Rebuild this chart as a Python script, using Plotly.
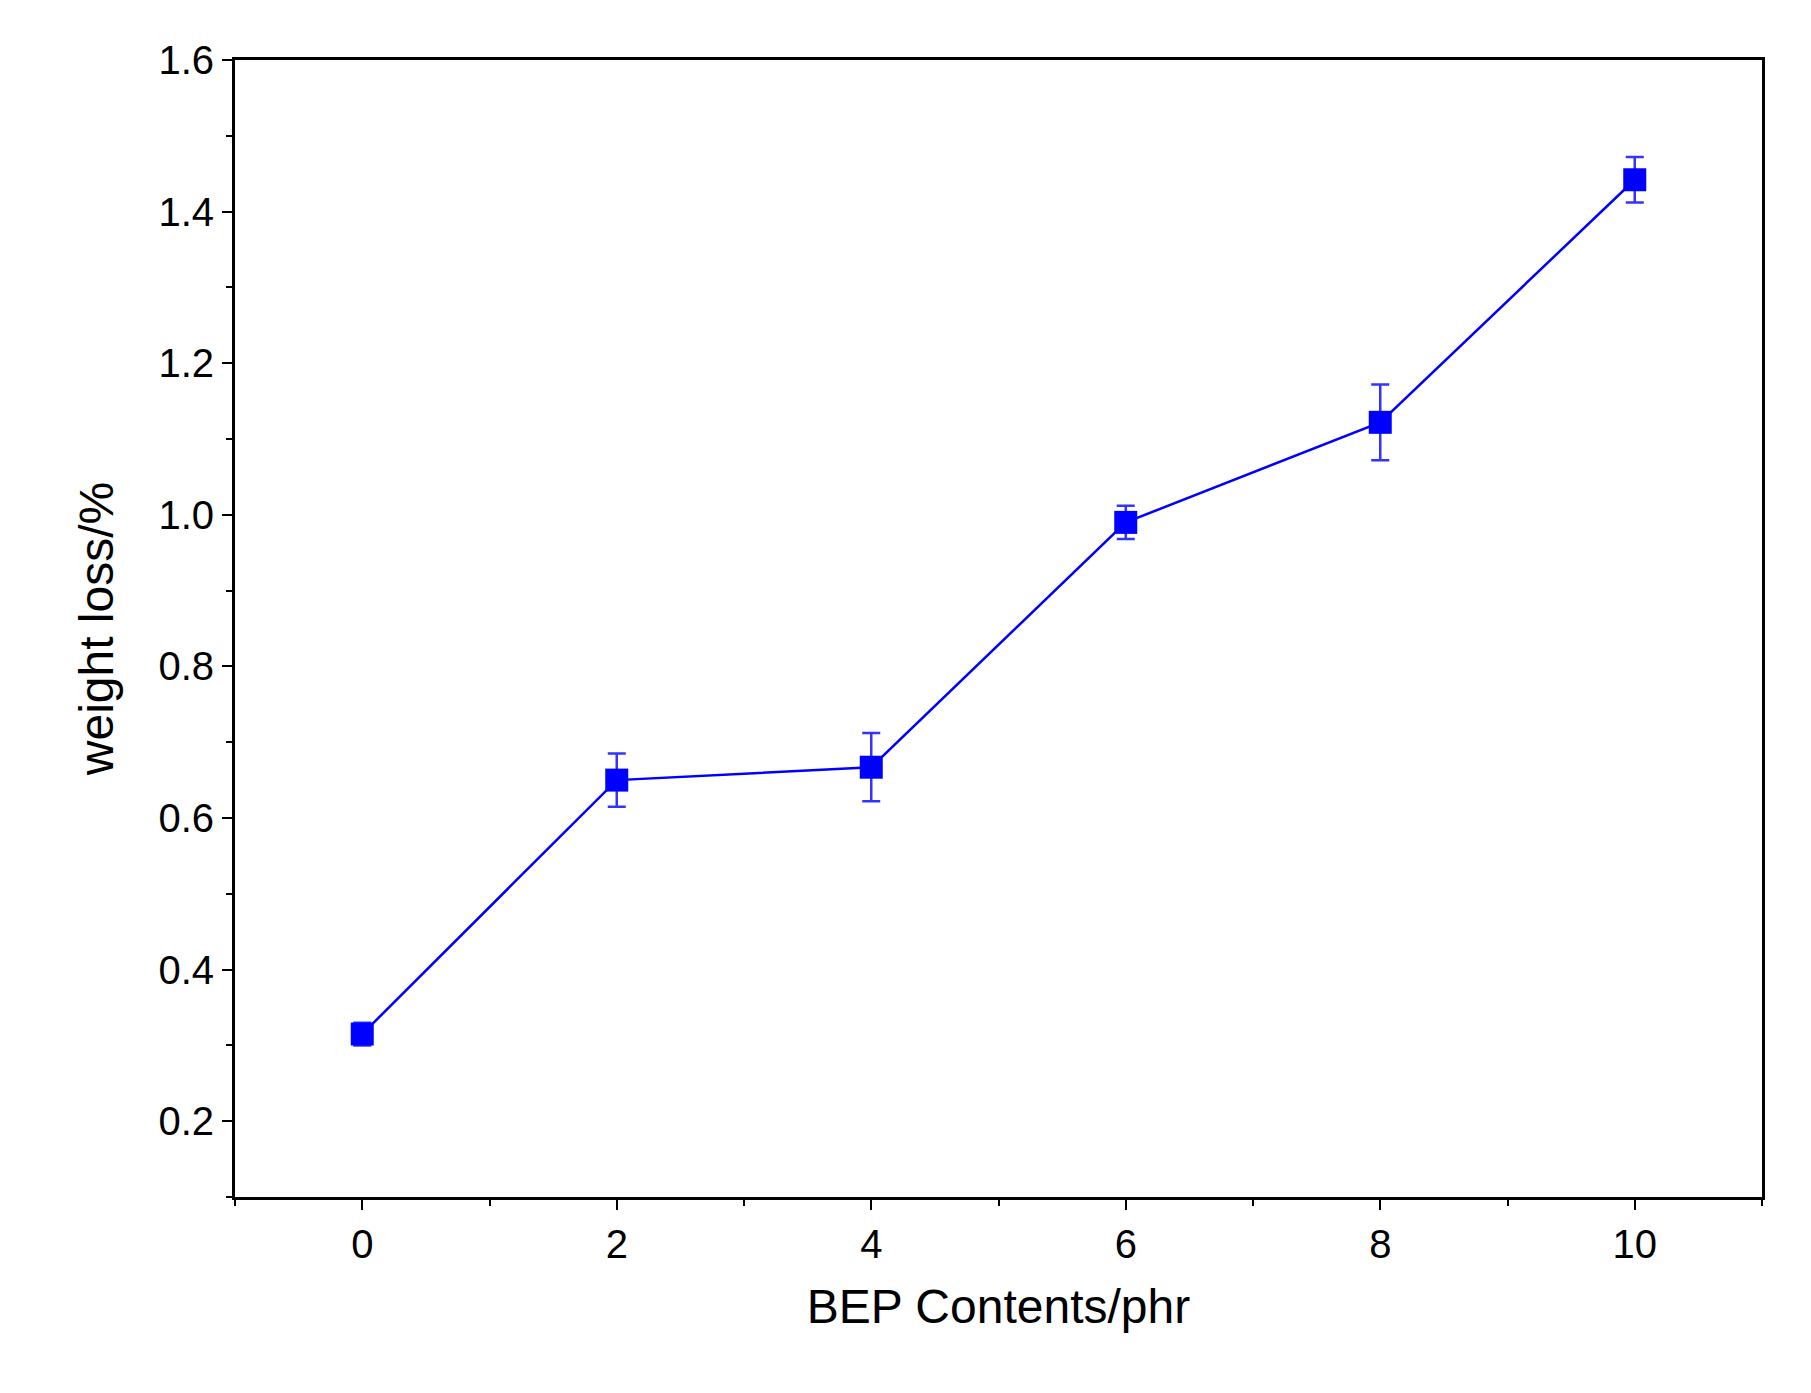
import plotly.graph_objects as go

bep_phr = [0, 2, 4, 6, 8, 10]
weight_loss = [0.315, 0.650, 0.667, 0.990, 1.122, 1.442]
error = [0.015, 0.035, 0.045, 0.022, 0.050, 0.030]

fig = go.Figure(go.Scatter(
    x=bep_phr, y=weight_loss, mode="lines+markers",
    line=dict(color="#0000ff", width=2.5),
    marker=dict(symbol="square", size=23, color="#0000ff"),
    error_y=dict(type="data", array=error, color="#3333ff", thickness=2.5, width=9),
))

axis_common = dict(
    showgrid=False, zeroline=False, showline=True, linecolor="black", linewidth=3,
    mirror=True, ticks="outside", ticklen=10, tickwidth=2, tickcolor="black",
    tickfont=dict(family="Liberation Sans", size=40, color="black"),
    title_font=dict(family="Liberation Sans", size=48, color="black"),
)

fig.update_layout(
    width=1811, height=1393, plot_bgcolor="white", paper_bgcolor="white",
    showlegend=False, margin=dict(l=227, r=57, t=52, b=204),
    xaxis=dict(axis_common, range=[-1, 11], tickvals=[0, 2, 4, 6, 8, 10],
               minor=dict(dtick=1, ticks="outside", ticklen=6, tickwidth=2, tickcolor="black"),
               title=dict(text="BEP Contents/phr", standoff=25)),
    yaxis=dict(axis_common, range=[0.1, 1.6], tickvals=[0.2, 0.4, 0.6, 0.8, 1.0, 1.2, 1.4, 1.6],
               tickformat=".1f",
               minor=dict(dtick=0.1, ticks="outside", ticklen=6, tickwidth=2, tickcolor="black"),
               title=dict(text="weight loss/%", standoff=30)),
)

fig.write_html("out.html")
